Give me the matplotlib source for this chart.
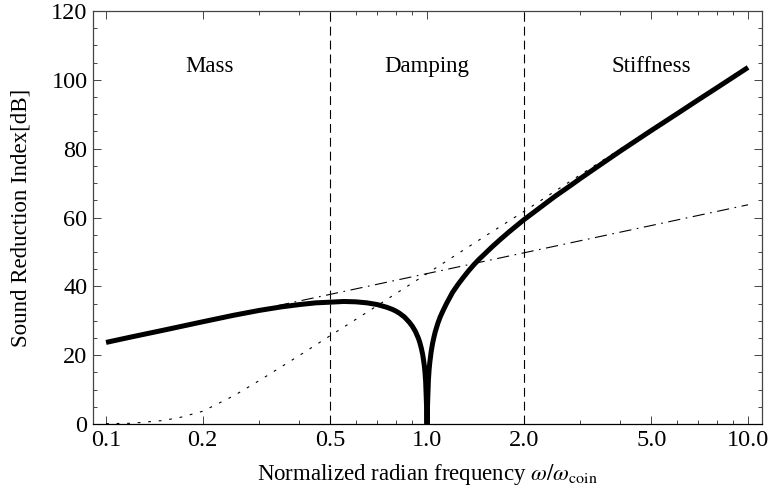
import numpy as np
import matplotlib
matplotlib.use("Agg")
import matplotlib.pyplot as plt
from matplotlib.ticker import FixedLocator, FixedFormatter, MultipleLocator

plt.rcParams["font.family"] = ["Liberation Serif", "DejaVu Serif"]
plt.rcParams["mathtext.fontset"] = "stix"

# total sound reduction index (thick curve)
total_x = [0.1, 0.12, 0.15, 0.2, 0.25, 0.3, 0.35, 0.4, 0.45, 0.5, 0.55, 0.6, 0.65,
           0.7, 0.75, 0.78, 0.8, 0.82, 0.85, 0.88, 0.9, 0.92, 0.94, 0.95, 0.96,
           0.97, 0.98, 0.985, 0.99, 0.995, 1.0, 1.005, 1.01, 1.015, 1.02, 1.03,
           1.04, 1.05, 1.06, 1.08, 1.1, 1.12, 1.15, 1.2, 1.25, 1.3, 1.35, 1.4,
           1.45, 1.5, 1.6, 1.7, 1.8, 1.9, 2.0, 2.2, 2.5, 2.8, 3.0, 3.5, 4.0, 5.0,
           6.0, 7.0, 8.0, 10.0]
total_y = [23.7, 25.3, 27.2, 29.7, 31.6, 33.0, 34.0, 34.7, 35.2, 35.4, 35.6, 35.5, 35.2,
           34.7, 33.9, 33.3, 32.8, 32.2, 31.1, 29.6, 28.4, 26.9, 24.9, 23.6, 22.0,
           20.0, 17.2, 15.2, 12.4, 7.0, 0.0, 7.3, 12.8, 15.8, 17.9, 21.0,
           23.3, 25.1, 26.7, 29.2, 31.2, 32.8, 35.0, 38.2, 40.6, 42.7, 44.6, 46.3,
           47.8, 49.1, 51.6, 53.8, 55.8, 57.6, 59.3, 62.2, 66.1, 69.3, 71.3, 75.6, 79.3, 85.3,
           90.1, 94.2, 97.7, 103.6]

# mass law asymptote (dash-dot)
mass_x = [0.1, 10.0]
mass_y = [23.7, 63.7]

# stiffness asymptote (dotted)
stiff_x = [0.1, 0.12, 0.15, 0.17, 0.2, 0.25, 0.3, 0.4, 0.5, 0.6, 0.7, 0.8, 1.0,
           1.5, 2.0, 3.0, 5.0, 10.0]
stiff_y = [0.1, 0.2, 1.0, 1.9, 3.7, 8.2, 12.6, 19.9, 25.7, 30.4, 34.4, 37.9, 43.7,
           54.3, 61.7, 72.4, 85.7, 103.7]

# region boundaries and names
bound_x = [0.5, 2.0]
region_names = ["Mass", "Damping", "Stiffness"]
region_x = [0.21, 1.0, 5.0]
region_y = 104

xticks = [0.1, 0.2, 0.5, 1.0, 2.0, 5.0, 10.0]
xtick_labels = ["0.1", "0.2", "0.5", "1.0", "2.0", "5.0", "10.0"]
xminor = [0.3, 0.4, 0.6, 0.7, 0.8, 0.9, 3, 4, 6, 7, 8, 9]

fig = plt.figure(figsize=(7.69, 5.0), dpi=100)
ax = fig.add_axes([0.121, 0.152, 0.870, 0.826])

ax.plot(stiff_x, stiff_y, color="black", lw=0.8, dashes=(2.5, 7))
ax.plot(mass_x, mass_y, color="black", lw=0.8, dashes=(11, 5, 1.5, 5))
for bx in bound_x:
    ax.axvline(bx, color="black", lw=0.8, dashes=(8, 4.5))
ax.plot(total_x, total_y, color="black", lw=3.6, solid_capstyle="butt",
        solid_joinstyle="round")

for name, rx in zip(region_names, region_x):
    ax.text(rx, region_y, name, ha="center", va="center", fontsize=16.5)

ax.set_xscale("log")
ax.set_xlim(0.0911, 11.06)
ax.set_ylim(0, 120)

ax.xaxis.set_major_locator(FixedLocator(xticks))
ax.xaxis.set_major_formatter(FixedFormatter(xtick_labels))
ax.xaxis.set_minor_locator(FixedLocator(xminor))
ax.xaxis.set_minor_formatter(FixedFormatter([""] * len(xminor)))
ax.yaxis.set_major_locator(MultipleLocator(20))
ax.yaxis.set_minor_locator(MultipleLocator(5))

frame_col = "#444444"
for sp in ax.spines.values():
    sp.set_color(frame_col)
    sp.set_linewidth(0.9)
ax.spines["bottom"].set_color("black")

ax.tick_params(which="both", direction="in", top=True, right=True,
               color=frame_col, labelsize=17.5, width=0.7)
ax.tick_params(which="major", length=5.5, pad=4)
ax.tick_params(which="minor", length=2.8)

ax.set_xlabel(r"Normalized radian frequency $\omega/\omega_{\rm coin}$", fontsize=16.5, labelpad=8)
ax.set_ylabel("Sound Reduction Index[dB]", fontsize=16.5, labelpad=14)

fig.savefig("out.png", dpi=100)
